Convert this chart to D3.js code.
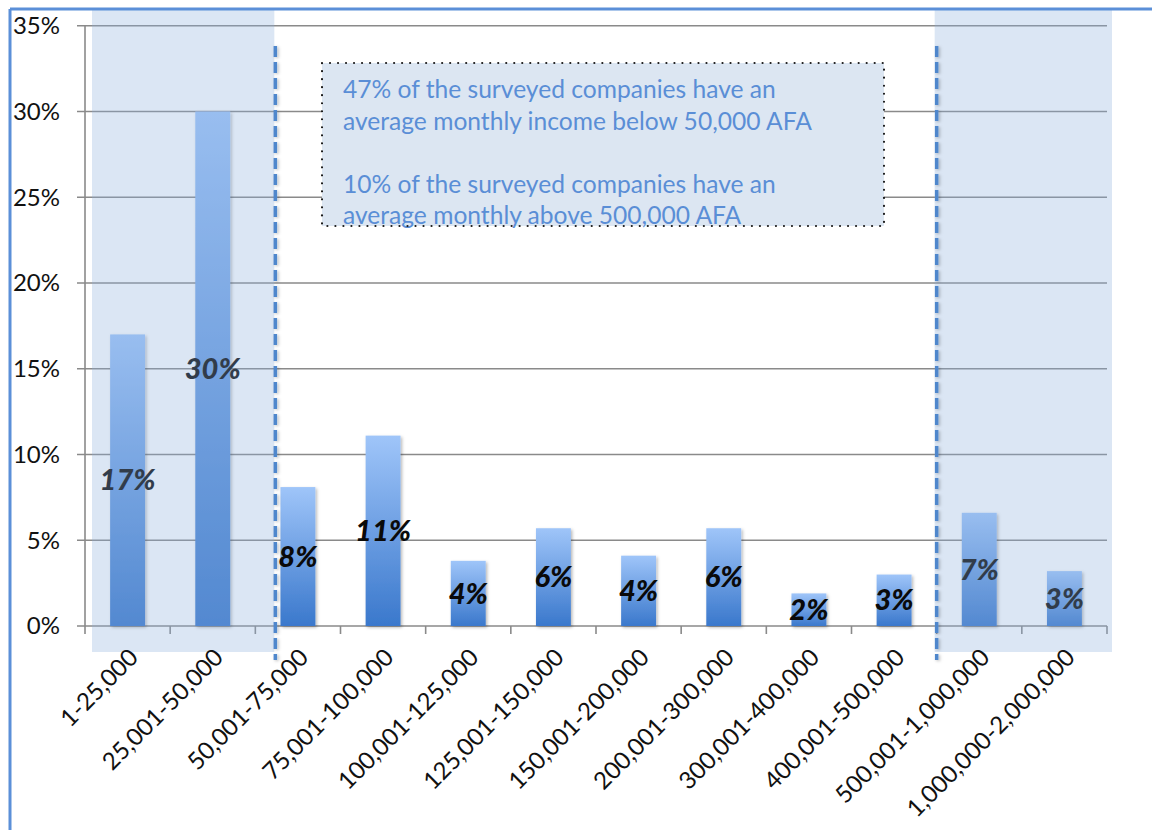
<!DOCTYPE html>
<html>
<head>
<meta charset="utf-8">
<script src="https://cdn.jsdelivr.net/npm/d3@7"></script>
<style>
  html, body { margin: 0; padding: 0; background: #ffffff; }
  svg { display: block; }
</style>
</head>
<body>
<svg id="chart" width="1152" height="830"></svg>
<script>
// Monthly income brackets (AFA) and share of surveyed companies (%)
const categories = [
  "1-25,000", "25,001-50,000", "50,001-75,000", "75,001-100,000",
  "100,001-125,000", "125,001-150,000", "150,001-200,000", "200,001-300,000",
  "300,001-400,000", "400,001-500,000", "500,001-1,000,000", "1,000,000-2,000,000"
];
const shares = [17.0, 30.0, 8.1, 11.1, 3.8, 5.7, 4.1, 5.7, 1.9, 3.0, 6.6, 3.2];
const yTicks = [0, 5, 10, 15, 20, 25, 30, 35];

// Highlighted bracket groups
const lowGroup = ["1-25,000", "25,001-50,000"];
const highGroup = ["500,001-1,000,000", "1,000,000-2,000,000"];

// Call-out text
const noteLines = [
  "47% of the surveyed companies have an",
  "average monthly income below 50,000 AFA",
  "",
  "10% of the surveyed companies have an",
  "average monthly above 500,000 AFA"
];

const FONT = "Lato, 'Open Sans', sans-serif";
const svg = d3.select("#chart");

const x = d3.scaleBand()
  .domain(categories)
  .range([85, 1107])
  .paddingInner(0.59)
  .paddingOuter(0.295);
const step = x.step();
const bandStart = c => x(c) - x.paddingOuter() * step; // left edge of a category slot
const y = d3.scaleLinear().domain([0, 35]).range([626, 25.7]);

const defs = svg.append("defs");
const grad = defs.append("linearGradient")
  .attr("id", "barFill").attr("x1", 0).attr("y1", 0).attr("x2", 0).attr("y2", 1);
grad.append("stop").attr("offset", "0%").attr("stop-color", "#9fc5f9");
grad.append("stop").attr("offset", "100%").attr("stop-color", "#3a78cc");

const shadow = defs.append("filter").attr("id", "soft")
  .attr("x", "-30%").attr("y", "-10%").attr("width", "160%").attr("height", "130%");
shadow.append("feDropShadow").attr("dx", 1.5).attr("dy", 1.5)
  .attr("stdDeviation", 1.8).attr("flood-color", "#000").attr("flood-opacity", 0.28);

// Shadow for thin lines, measured in user space so zero-width lines still render
const lineShadow = defs.append("filter").attr("id", "lineSoft")
  .attr("filterUnits", "userSpaceOnUse")
  .attr("x", 0).attr("y", 0).attr("width", 1152).attr("height", 830);
lineShadow.append("feDropShadow").attr("dx", 1.5).attr("dy", 1)
  .attr("stdDeviation", 1.5).attr("flood-color", "#000").attr("flood-opacity", 0.25);

// Horizontal gridlines
svg.append("g").selectAll("line")
  .data(yTicks)
  .join("line")
  .attr("x1", 77).attr("x2", 1107)
  .attr("y1", d => y(d)).attr("y2", d => y(d))
  .attr("stroke", "#8a8a8a").attr("stroke-width", 1.6);

// Y axis line
svg.append("line")
  .attr("x1", 85).attr("x2", 85)
  .attr("y1", y(35)).attr("y2", y(0))
  .attr("stroke", "#8a8a8a").attr("stroke-width", 1.6);

// X axis tick marks at category boundaries
const boundaries = categories.map(bandStart).concat([1107]);
svg.append("g").selectAll("line")
  .data(boundaries)
  .join("line")
  .attr("x1", d => d).attr("x2", d => d)
  .attr("y1", y(0)).attr("y2", y(0) + 8)
  .attr("stroke", "#8a8a8a").attr("stroke-width", 1.6);

// Y tick labels
svg.append("g").selectAll("text")
  .data(yTicks)
  .join("text")
  .attr("x", 60).attr("y", d => y(d)).attr("dy", "0.35em")
  .attr("text-anchor", "end")
  .attr("font-family", FONT).attr("font-size", 24).attr("fill", "#111")
  .text(d => d + "%");

// Bars
svg.append("g").selectAll("rect")
  .data(shares)
  .join("rect")
  .attr("x", (d, i) => x(categories[i]))
  .attr("y", d => y(d))
  .attr("width", x.bandwidth())
  .attr("height", d => y(0) - y(d))
  .attr("fill", "url(#barFill)")
  .attr("filter", "url(#soft)");

// Value labels, centred in each bar
const fmt = d3.format(".0f");
svg.append("g").selectAll("text")
  .data(shares)
  .join("text")
  .attr("x", (d, i) => x(categories[i]) + x.bandwidth() / 2)
  .attr("y", d => (y(d) + y(0)) / 2).attr("dy", "0.35em")
  .attr("text-anchor", "middle")
  .attr("font-family", FONT).attr("font-size", 29)
  .attr("font-weight", 900).attr("font-style", "italic")
  .attr("fill", "#0a0a0a")
  .text(d => fmt(d) + "%");

// Translucent highlight panels over the low and high brackets
const panels = [
  { x0: bandStart(lowGroup[0]) + 7, x1: bandStart(categories[2]) + 19 },
  { x0: bandStart(highGroup[0]) - 2, x1: 1112 }
];
svg.append("g").selectAll("rect")
  .data(panels)
  .join("rect")
  .attr("x", d => d.x0).attr("y", 10)
  .attr("width", d => d.x1 - d.x0).attr("height", 642)
  .attr("fill", "rgb(140,174,220)").attr("fill-opacity", 0.31);

// Dashed dividers
const dividers = [bandStart(categories[2]) + 20, bandStart(highGroup[0])];
svg.append("g").selectAll("line")
  .data(dividers)
  .join("line")
  .attr("x1", d => d).attr("x2", d => d)
  .attr("y1", 46).attr("y2", 660)
  .attr("stroke", "#4f87cc").attr("stroke-width", 3.5)
  .attr("stroke-dasharray", "11,5")
  .attr("filter", "url(#lineSoft)");

// Call-out box
const note = svg.append("g");
note.append("rect")
  .attr("x", 322).attr("y", 63).attr("width", 562).attr("height", 163)
  .attr("fill", "#dce6f2");
note.selectAll("text")
  .data(noteLines)
  .join("text")
  .attr("x", 343)
  .attr("y", (d, i) => 98 + i * 31.5)
  .attr("font-family", FONT).attr("font-size", 24.6)
  .attr("fill", "#5a8ed6")
  .text(d => d);
note.append("rect")
  .attr("x", 322).attr("y", 63).attr("width", 562).attr("height", 163)
  .attr("fill", "none").attr("stroke", "#1a1a1a").attr("stroke-width", 2.2)
  .attr("stroke-linecap", "round").attr("stroke-dasharray", "0.01,8");

// Rotated category labels
svg.append("g").selectAll("text")
  .data(categories)
  .join("text")
  .attr("transform", c => `translate(${x(c) + x.bandwidth() / 2 + 6},${y(0) + 27}) rotate(-45)`)
  .attr("dy", "0.35em")
  .attr("text-anchor", "end")
  .attr("font-family", FONT).attr("font-size", 24).attr("fill", "#111")
  .text(c => c);

// Frame lines along the top and left edges
svg.append("line").attr("x1", 10).attr("x2", 1152).attr("y1", 9).attr("y2", 9)
  .attr("stroke", "#5b8fd8").attr("stroke-width", 3);
svg.append("line").attr("x1", 10).attr("x2", 10).attr("y1", 9).attr("y2", 830)
  .attr("stroke", "#5b8fd8").attr("stroke-width", 3);
</script>
</body>
</html>
